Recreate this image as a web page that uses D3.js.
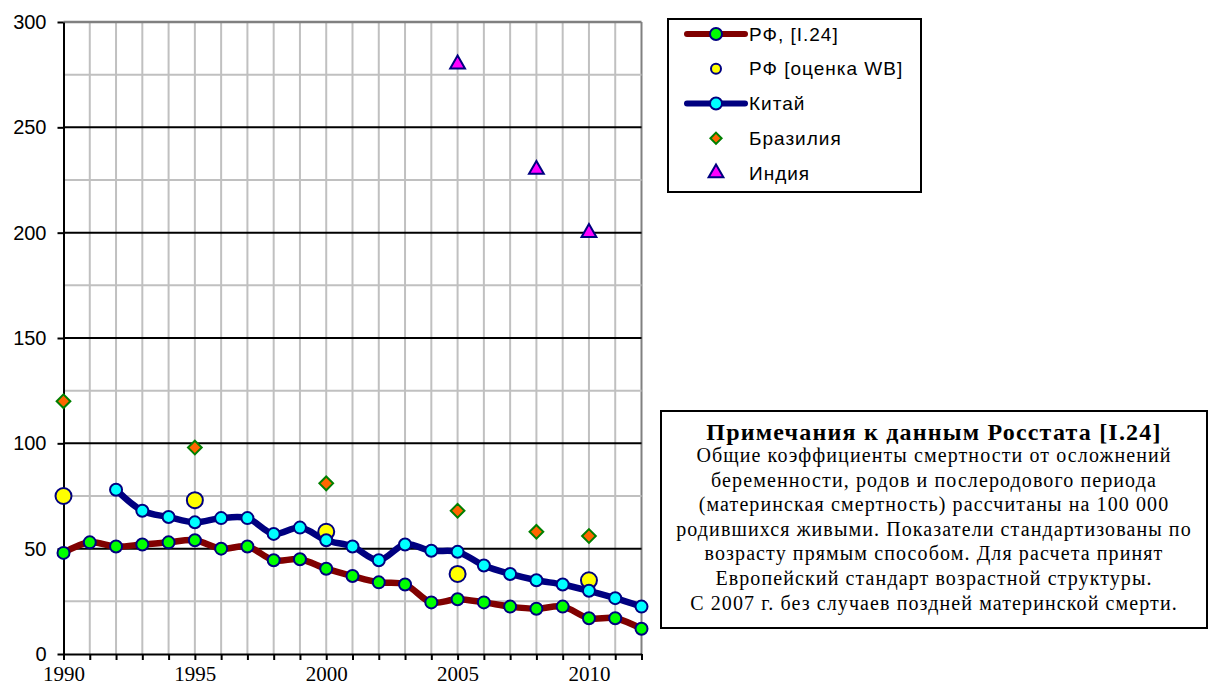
<!DOCTYPE html>
<html>
<head>
<meta charset="utf-8">
<script src="https://cdn.jsdelivr.net/npm/d3@7"></script>
<style>
  body { margin: 0; background: #fff; }
  svg { display: block; }
</style>
</head>
<body>
<div id="chart"></div>
<script>
// data
var years = d3.range(1990, 2013);
var rfYears = years;
var rfValues = [48, 53, 51, 52, 53, 54, 50, 51, 44.5, 45, 40.5, 37, 34, 33, 24.5, 26, 24.5, 22.5, 21.5, 22.5, 17, 17, 12];
var wbYears = [1990, 1995, 2000, 2005, 2010];
var wbValues = [75, 73, 58, 38, 35];
var chinaYears = d3.range(1992, 2013);
var chinaValues = [78, 68, 65, 62.5, 64.5, 64.5, 57, 60, 54, 51, 44.5, 52, 49, 48.5, 42, 38, 35, 33, 30, 26.5, 22.5];
var brazilYears = [1990, 1995, 2000, 2005, 2008, 2010];
var brazilValues = [120, 98, 81, 68, 58, 56];
var indiaYears = [2005, 2008, 2010];
var indiaValues = [280, 230, 200];
var yTicks = [0, 50, 100, 150, 200, 250, 300];
var xTickLabels = [1990, 1995, 2000, 2005, 2010];
var legendLabels = ["РФ, [I.24]", "РФ [оценка WB]", "Китай", "Бразилия", "Индия"];
var noteTitle = "Примечания к данным Росстата [I.24]";
var noteLines = [
  "Общие коэффициенты смертности от осложнений",
  "беременности, родов и послеродового периода",
  "(материнская смертность) рассчитаны на 100 000",
  "родившихся живыми. Показатели стандартизованы по",
  "возрасту прямым способом. Для расчета принят",
  "Европейский стандарт возрастной структуры.",
  "С 2007 г. без случаев поздней материнской смерти."
];

var width = 1212, height = 688;
var svg = d3.select("#chart").append("svg").attr("width", width).attr("height", height);

var x = d3.scaleLinear().domain([1990, 2012]).range([63.5, 641.5]);
var y = d3.scaleLinear().domain([0, 300]).range([654, 22]);

// vertical grid
svg.selectAll("line.vgrid").data(years.slice(1)).enter().append("line")
  .attr("x1", d => x(d)).attr("x2", d => x(d))
  .attr("y1", y(300)).attr("y2", y(0))
  .attr("stroke", d => d == 2012 ? "#808080" : "#c0c0c0").attr("stroke-width", 2);

// horizontal grid (minor gray, major black)
svg.selectAll("line.hgrid").data(d3.range(25, 301, 25)).enter().append("line")
  .attr("x1", x(1990)).attr("x2", x(2012))
  .attr("y1", d => y(d)).attr("y2", d => y(d))
  .attr("stroke", d => d == 300 ? "#808080" : (d % 50 == 0 ? "#000" : "#c0c0c0"))
  .attr("stroke-width", d => d == 300 ? 2.5 : 2);

// axes
svg.append("g").attr("transform", "translate(" + x(1990) + ",0)")
  .call(d3.axisLeft(y).tickValues(yTicks).tickSize(6).tickSizeOuter(0))
  .call(g => g.select(".domain").attr("stroke-width", 2))
  .call(g => g.selectAll(".tick line").attr("stroke-width", 2))
  .call(g => g.selectAll(".tick text").attr("font-family", "Liberation Sans, Arial, sans-serif")
    .attr("font-size", 20).attr("fill", "#000").attr("x", -17));

svg.append("g").attr("transform", "translate(0," + y(0) + ")")
  .call(d3.axisBottom(x).tickValues(years).tickSize(6).tickSizeOuter(0).tickFormat(d => xTickLabels.includes(d) ? d : ""))
  .call(g => g.select(".domain").attr("stroke-width", 2))
  .call(g => g.selectAll(".tick line").attr("stroke-width", 2))
  .call(g => g.selectAll(".tick text").attr("font-family", "Liberation Serif, Times New Roman, serif")
    .attr("font-size", 21).attr("fill", "#000").attr("y", 12));

var line = d3.line().x(d => x(d[0])).y(d => y(d[1])).curve(d3.curveCatmullRom);

// Russia line
svg.append("path").datum(d3.zip(rfYears, rfValues))
  .attr("d", line).attr("fill", "none").attr("stroke", "#800000").attr("stroke-width", 6.5);
// China line
svg.append("path").datum(d3.zip(chinaYears, chinaValues))
  .attr("d", line).attr("fill", "none").attr("stroke", "#000080").attr("stroke-width", 6.5);

// markers
function circles(xs, vs, r, fill) {
  svg.append("g").selectAll("circle").data(d3.zip(xs, vs)).enter().append("circle")
    .attr("cx", d => x(d[0])).attr("cy", d => y(d[1])).attr("r", r)
    .attr("fill", fill).attr("stroke", "#000080").attr("stroke-width", 2);
}
circles(wbYears, wbValues, 8, "#ffff00");
circles(rfYears, rfValues, 6, "#00ff00");
circles(chinaYears, chinaValues, 6, "#00ffff");

var diamond = d3.symbol().type(d3.symbolDiamond2).size(120);
var triangle = d3.symbol().type(d3.symbolTriangle).size(95);

svg.append("g").selectAll("path").data(d3.zip(brazilYears, brazilValues)).enter().append("path")
  .attr("d", diamond).attr("transform", d => "translate(" + x(d[0]) + "," + y(d[1]) + ")")
  .attr("fill", "#ff6600").attr("stroke", "#008000").attr("stroke-width", 2);
svg.append("g").selectAll("path").data(d3.zip(indiaYears, indiaValues)).enter().append("path")
  .attr("d", triangle).attr("transform", d => "translate(" + x(d[0]) + "," + y(d[1]) + ")")
  .attr("fill", "#ff00ff").attr("stroke", "#000080").attr("stroke-width", 2);

// legend
var lg = svg.append("g");
lg.append("rect").attr("x", 668).attr("y", 19).attr("width", 253).attr("height", 173)
  .attr("fill", "#fff").attr("stroke", "#000").attr("stroke-width", 2);
var rowY = d3.scalePoint().domain(legendLabels).range([34, 173]);
var mx = 716;
legendLabels.forEach(function(lab, i) {
  var yy = rowY(lab);
  if (i == 0 || i == 2) {
    lg.append("line").attr("x1", 687).attr("x2", 745).attr("y1", yy).attr("y2", yy)
      .attr("stroke", i == 0 ? "#800000" : "#000080").attr("stroke-width", 6).attr("stroke-linecap", "round");
    lg.append("circle").attr("cx", mx).attr("cy", yy).attr("r", 6)
      .attr("fill", i == 0 ? "#00ff00" : "#00ffff").attr("stroke", "#000080").attr("stroke-width", 2);
  } else if (i == 1) {
    lg.append("circle").attr("cx", mx).attr("cy", yy).attr("r", 5)
      .attr("fill", "#ffff00").attr("stroke", "#000080").attr("stroke-width", 2);
  } else if (i == 3) {
    lg.append("path").attr("d", d3.symbol().type(d3.symbolDiamond2).size(80)).attr("transform", "translate(" + mx + "," + yy + ")")
      .attr("fill", "#ff6600").attr("stroke", "#008000").attr("stroke-width", 2);
  } else {
    lg.append("path").attr("d", triangle).attr("transform", "translate(" + mx + "," + yy + ")")
      .attr("fill", "#ff00ff").attr("stroke", "#000080").attr("stroke-width", 2);
  }
  lg.append("text").attr("x", 749).attr("y", yy).attr("dy", "0.35em")
    .attr("font-family", "Liberation Sans, Arial, sans-serif").attr("font-size", 19)
    .attr("letter-spacing", 1).text(lab);
});

// note box
var nb = svg.append("g");
nb.append("rect").attr("x", 661).attr("y", 411).attr("width", 546).attr("height", 217)
  .attr("fill", "#fff").attr("stroke", "#000").attr("stroke-width", 2);
nb.append("text").attr("x", 934).attr("y", 440).attr("text-anchor", "middle")
  .attr("font-family", "Liberation Serif, Times New Roman, serif").attr("font-size", 24)
  .attr("letter-spacing", 1.2).attr("font-weight", "bold").text(noteTitle);
nb.selectAll("text.ln").data(noteLines).enter().append("text")
  .attr("x", 934).attr("y", (d, i) => 462 + i * 24.6).attr("text-anchor", "middle")
  .attr("font-family", "Liberation Serif, Times New Roman, serif").attr("font-size", 20)
  .attr("letter-spacing", 1.1).text(d => d);
</script>
</body>
</html>
